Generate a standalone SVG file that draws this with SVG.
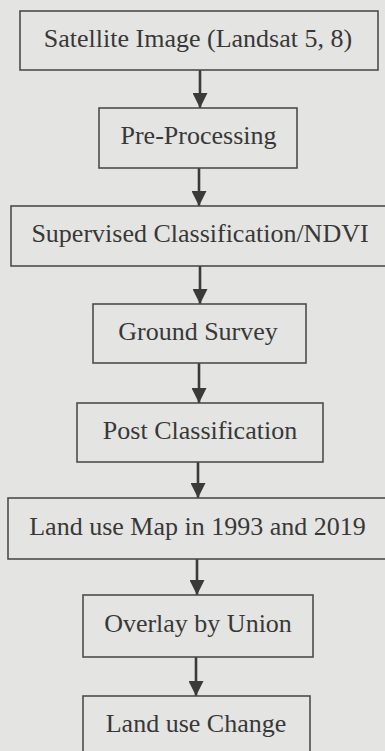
<svg xmlns="http://www.w3.org/2000/svg" width="385" height="751" viewBox="0 0 385 751">
<defs>
<style>
.box{fill:none;stroke:#4d4d4d;stroke-width:1.6}
.lbl{font-family:"Liberation Serif","Times New Roman",serif;font-size:26px;fill:#383838;text-anchor:middle}
.conn{stroke:#3a3a3a;stroke-width:2.6;fill:none}
</style>
<marker id="ah" viewBox="0 0 15 15" refX="15" refY="7.5" markerWidth="15" markerHeight="15" markerUnits="userSpaceOnUse" orient="auto">
<path d="M0,0 L15,7.5 L0,15 Z" fill="#3a3a3a"/>
</marker>
</defs>
<rect width="385" height="751" fill="#e4e4e2"/>
<g id="connectors">
<line class="conn" x1="200" y1="70" x2="200" y2="108" marker-end="url(#ah)"/>
<line class="conn" x1="199" y1="168" x2="199" y2="206" marker-end="url(#ah)"/>
<line class="conn" x1="200" y1="266" x2="200" y2="304" marker-end="url(#ah)"/>
<line class="conn" x1="199" y1="363" x2="199" y2="403" marker-end="url(#ah)"/>
<line class="conn" x1="198" y1="462" x2="198" y2="498" marker-end="url(#ah)"/>
<line class="conn" x1="197" y1="559" x2="197" y2="595" marker-end="url(#ah)"/>
<line class="conn" x1="196" y1="657" x2="196" y2="696" marker-end="url(#ah)"/>
</g>
<g id="n1"><rect class="box" x="20" y="11" width="358" height="59"/><text class="lbl" x="198" y="46.5">Satellite Image (Landsat 5, 8)</text></g>
<g id="n2"><rect class="box" x="99" y="108" width="198" height="60"/><text class="lbl" x="198.5" y="144">Pre-Processing</text></g>
<g id="n3"><rect class="box" x="11" y="206" width="384" height="60"/><text class="lbl" x="200" y="242">Supervised Classification/NDVI</text></g>
<g id="n4"><rect class="box" x="93" y="304" width="213" height="59"/><text class="lbl" x="198" y="339.5">Ground Survey</text></g>
<g id="n5"><rect class="box" x="77" y="403" width="246" height="59"/><text class="lbl" x="200" y="438.5">Post Classification</text></g>
<g id="n6"><rect class="box" x="8" y="498" width="390" height="61"/><text class="lbl" x="197.5" y="534.5">Land use Map in 1993 and 2019</text></g>
<g id="n7"><rect class="box" x="83" y="595" width="230" height="62"/><text class="lbl" x="198" y="632">Overlay by Union</text></g>
<g id="n8"><rect class="box" x="83" y="696" width="227" height="70"/><text class="lbl" x="196" y="732">Land use Change</text></g>
</svg>
